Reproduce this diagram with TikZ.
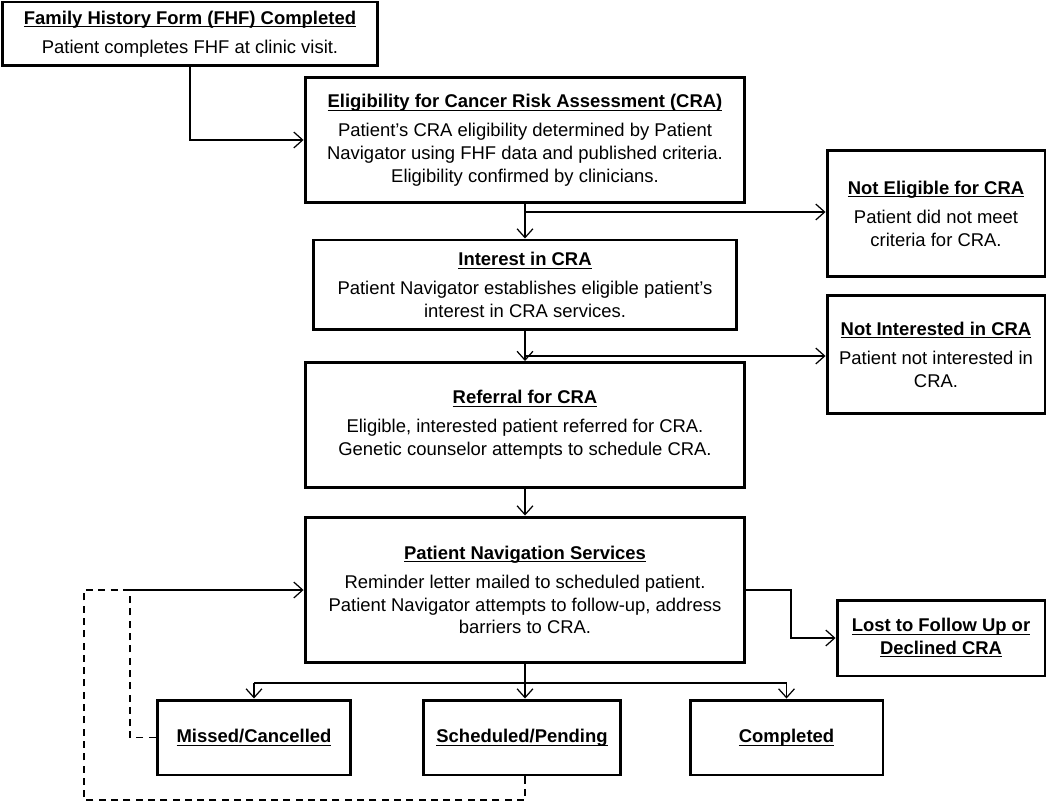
\documentclass[tikz,border=0pt]{standalone}
\usepackage{fontspec}
\setmainfont{Liberation Sans}
\usetikzlibrary{arrows.meta}

\tikzset{
  stepbox/.style={draw, line width=1.7pt, align=center, inner sep=0pt,
    font=\fontsize{10.5}{13}\selectfont},
  flow/.style={line width=0.7pt, -{Straight Barb[length=5pt,width=9pt]}},
  link/.style={line width=0.7pt},
  loopback/.style={line width=0.7pt, dash pattern=on 4pt off 3pt},
}
\newcommand{\boxtitle}[1]{\underline{\raisebox{0pt}[\height][0pt]{\textbf{#1}}}}

\begin{document}
\begin{tikzpicture}[x=0.02cm, y=-0.02cm]
    \useasboundingbox (0,0) rectangle (1050,803);
    \node [stepbox, minimum width=7.52cm, minimum height=1.28cm] (fhf) at (190,34)
      {\boxtitle{Family History Form (FHF) Completed}\\[3.5pt]
       Patient completes FHF at clinic visit.};
    \node [stepbox, minimum width=8.8cm, minimum height=2.52cm] (elig) at (525,140)
      {\boxtitle{Eligibility for Cancer Risk Assessment (CRA)}\\[3.5pt]
       Patient’s CRA eligibility determined by Patient\\
       Navigator using FHF data and published criteria.\\
       Eligibility confirmed by clinicians.};
    \node [stepbox, minimum width=4.36cm, minimum height=2.54cm] (noelig) at (936,213.5)
      {\boxtitle{Not Eligible for CRA}\\[3.5pt]
       Patient did not meet\\criteria for CRA.};
    \node [stepbox, minimum width=8.48cm, minimum height=1.8cm] (interest) at (525,285)
      {\boxtitle{Interest in CRA}\\[3.5pt]
       Patient Navigator establishes eligible patient’s\\
       interest in CRA services.};
    \node [stepbox, minimum width=4.36cm, minimum height=2.38cm] (nointerest) at (936,354.5)
      {\boxtitle{Not Interested in CRA}\\[3.5pt]
       Patient not interested in\\CRA.};
    \node [stepbox, minimum width=8.8cm, minimum height=2.5cm] (referral) at (525,425)
      {\boxtitle{Referral for CRA}\\[3.5pt]
       Eligible, interested patient referred for CRA.\\
       Genetic counselor attempts to schedule CRA.};
    \node [stepbox, minimum width=8.8cm, minimum height=2.92cm] (pns) at (525,590)
      {\boxtitle{Patient Navigation Services}\\[3.5pt]
       Reminder letter mailed to scheduled patient.\\
       Patient Navigator attempts to follow-up, address\\
       barriers to CRA.};
    \node [stepbox, minimum width=4.16cm, minimum height=1.52cm] (lost) at (941,638)
      {\boxtitle{Lost to Follow Up or}\\\boxtitle{Declined CRA}};
    \node [stepbox, minimum width=3.88cm, minimum height=1.5cm] (missed) at (254,737.5)
      {\boxtitle{Missed/Cancelled}};
    \node [stepbox, minimum width=3.96cm, minimum height=1.5cm] (sched) at (522,737.5)
      {\boxtitle{Scheduled/Pending}};
    \node [stepbox, minimum width=3.86cm, minimum height=1.5cm] (done) at (786.5,737.5)
      {\boxtitle{Completed}};

    % main line
    \draw [flow] (fhf.south) |- (elig.west);
    \draw [flow] (elig.south) -- (elig.south |- interest.north);
    \draw [flow] (interest.south) -- (interest.south |- referral.north);
    \draw [flow] (referral.south) -- (referral.south |- pns.north);
    \coordinate (b1) at (525,212);
    \coordinate (b2) at (525,356);
    \draw [flow] (b1) -- (b1 -| noelig.west);
    \draw [flow] (b2) -- (b2 -| nointerest.west);

    % outcomes
    \coordinate (split) at (525,683);
    \draw [link] (pns.south) -- (split);
    \draw [link] (split -| missed.north) -- (split -| done.north);
    \draw [flow] (split -| missed.north) -- (missed.north);
    \draw [flow] (split) -- (split |- sched.north);
    \draw [flow] (split -| done.north) -- (done.north);
    \coordinate (k1) at (791,590);
    \draw [flow] (pns.east) -- (k1) |- (lost.west);

    % loop back to navigation
    \coordinate (fb) at (130,590);
    \coordinate (fb2) at (84,800);
    \draw [flow] (fb) -- (pns.west);
    \draw [loopback] (missed.west) -| (fb);
    \draw [loopback] (split |- sched.south) |- (fb2) |- (fb);
\end{tikzpicture}
\end{document}
